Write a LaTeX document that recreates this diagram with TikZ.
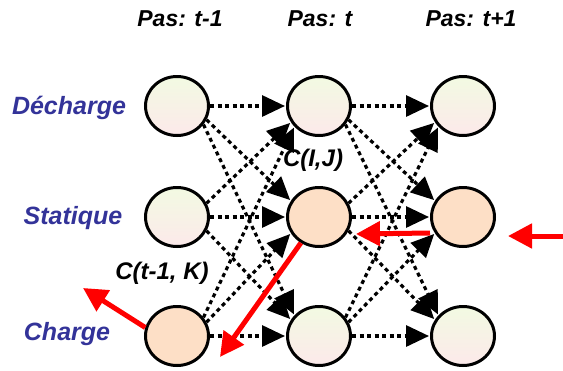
\documentclass[tikz,border=0pt]{standalone}
\usepackage{fontspec}
\setmainfont{Liberation Sans}
\usetikzlibrary{shapes.geometric,arrows.meta}
\definecolor{lightTop}{HTML}{F2FAE2}
\definecolor{lightBot}{HTML}{FCE9EA}
\definecolor{peach}{HTML}{FDDFC6}
\definecolor{labblue}{HTML}{333399}
\definecolor{redarr}{HTML}{FF0000}
\tikzset{
  state/.style={ellipse, draw, line width=3pt, minimum width=63pt, minimum height=59pt, inner sep=0pt},
  light/.style={state, top color=lightTop, bottom color=lightBot},
  hot/.style={state, fill=peach},
  flow/.style={line width=3.2pt, dash pattern=on 4pt off 3.5pt, -{Triangle[length=23pt,width=21pt]}, shorten >=1pt},
  hotarrow/.style={draw=redarr, line width=5pt, -{Triangle[length=24pt,width=24pt]}},
  head/.style={font=\bfseries\itshape\fontsize{23}{23}\selectfont},
  rowlab/.style={font=\bfseries\itshape\fontsize{25}{25}\selectfont, text=labblue},
  cost/.style={font=\bfseries\itshape\fontsize{24}{24}\selectfont}
}
\begin{document}
\begin{tikzpicture}[x=1pt,y=-1pt]
\useasboundingbox (0,0) rectangle (563,370);
% headers
\node[head] (h1) at (180,19) {Pas: t-1};
\node[head] (h2) at (320,19) {Pas: t};
\node[head] (h3) at (471,19) {Pas: t+1};
% row labels
\node[rowlab] (l1) at (69,108) {Décharge};
\node[rowlab] (l2) at (73,218) {Statique};
\node[rowlab] (l3) at (67,334) {Charge};
% states
\node[light] (d1) at (177,106) {};
\node[light] (d2) at (319,106) {};
\node[light] (d3) at (463,106) {};
\node[light] (s1) at (177,217) {};
\node[hot]   (s2) at (319,217) {};
\node[hot]   (s3) at (463,217) {};
\node[hot]   (c1) at (177,336) {};
\node[light] (c2) at (319,336) {};
\node[light] (c3) at (463,336) {};
% transitions t-1 -> t and t -> t+1
\foreach \a/\b in {1/2,2/3}{
  \draw[flow] (d\a.east) -- (d\b.west);
  \draw[flow] (d\a.-25) -- (s\b.150);
  \draw[flow] (d\a.-35) -- (c\b.140);
  \draw[flow] (s\a.25) -- (d\b.210);
  \draw[flow] (s\a.east) -- (s\b.west);
  \draw[flow] (s\a.-25) -- (c\b.150);
  \draw[flow] (c\a.35) -- (d\b.220);
  \draw[flow] (c\a.25) -- (s\b.210);
  \draw[flow] (c\a.east) -- (c\b.west);
}
% cost labels
\node[cost] (k1) at (313,160) {C(I,J)};
\node[cost] (k2) at (162,273) {C(t-1, K)};
% red arrows
\coordinate (r1) at (220,357);
\coordinate (r3) at (563,236);
\coordinate (r4) at (83,288);
\coordinate (r2a) at (432,233);
\coordinate (r2b) at (357,234);
\draw[hotarrow] (s2.235) -- (r1);
\draw[hotarrow] (r2a -| s3.west) -- ([xshift=4pt]r2b -| s2.east);
\draw[hotarrow] (r3) -- ([xshift=12pt]r3 -| s3.east);
\draw[hotarrow] (c1.165) -- (r4);
\end{tikzpicture}
\end{document}
